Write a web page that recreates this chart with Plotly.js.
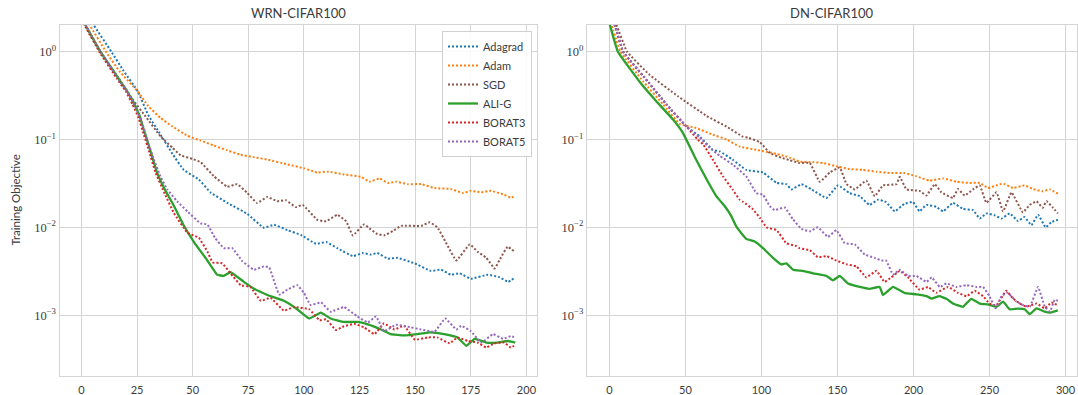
<!DOCTYPE html>
<html>
<head>
<meta charset="utf-8">
<script src="https://cdn.plot.ly/plotly-3.0.1.min.js"></script>
<style>html,body{margin:0;padding:0;background:#fff;}#chart{width:1078px;height:395px;}</style>
</head>
<body>
<div id="chart"></div>
<script>
// ---------- WRN-CIFAR100 (left) ----------
const wrnAdagradX = [0, 5.5, 13.4, 19, 25.4, 30, 35.6, 41, 46, 52.8, 58, 65.6, 74.6, 82, 86.6, 92.6, 98.6, 105.4, 110, 115, 122, 126.4, 130, 133, 137.7, 142, 149.7, 157, 161.7, 166, 170, 175, 182.7, 188, 191.8, 195];
const wrnAdagradY = [3.3, 2.0, 1.0, 0.6, 0.35, 0.19, 0.113, 0.068, 0.045, 0.035, 0.025, 0.019, 0.0142, 0.0099, 0.0107, 0.0093, 0.0082, 0.0065, 0.0068, 0.0058, 0.0047, 0.0051, 0.0049, 0.0051, 0.0044, 0.0045, 0.0039, 0.0032, 0.0033, 0.0029, 0.0030, 0.0026, 0.0029, 0.0027, 0.0024, 0.0027];

const wrnAdamX = [0, 3.7, 11, 17, 25.4, 30, 35.6, 41, 47.6, 53.6, 59.6, 65.6, 71.6, 77, 83.6, 92.6, 100, 106, 110.7, 118, 125.7, 129.4, 134, 137.7, 141.4, 146.7, 152.7, 158.7, 166, 171.5, 175, 179.7, 184, 190, 193, 195];
const wrnAdamY = [3.0, 2.0, 1.0, 0.6, 0.35, 0.24, 0.175, 0.14, 0.11, 0.097, 0.085, 0.075, 0.067, 0.063, 0.059, 0.052, 0.047, 0.042, 0.043, 0.040, 0.0375, 0.033, 0.036, 0.032, 0.033, 0.031, 0.031, 0.028, 0.0273, 0.0246, 0.026, 0.025, 0.026, 0.0235, 0.0217, 0.023];

const wrnSgdX = [0, 1.8, 8.5, 16, 22.8, 28.8, 35.6, 41, 44.6, 50, 53.6, 59.6, 65.6, 70, 74.6, 79, 83.6, 88, 91.9, 96.4, 99.4, 106, 110, 115, 119, 122, 127, 130, 133, 136, 140, 143.7, 152.7, 156.5, 160, 164.7, 168.5, 174.5, 178, 182, 185.7, 188, 191.5, 195];
const wrnSgdY = [2.4, 2.0, 1.0, 0.53, 0.29, 0.183, 0.108, 0.08, 0.066, 0.06, 0.055, 0.038, 0.029, 0.031, 0.0245, 0.0189, 0.0222, 0.0198, 0.0203, 0.017, 0.018, 0.0122, 0.0117, 0.0139, 0.0117, 0.0081, 0.0108, 0.0095, 0.0084, 0.0081, 0.0091, 0.0104, 0.0104, 0.0114, 0.0100, 0.0061, 0.0042, 0.0064, 0.0053, 0.0045, 0.0034, 0.0043, 0.0060, 0.0052];

const wrnAligX = [0, 1.8, 8.5, 16, 20, 23.6, 26, 28, 30.3, 34, 37.5, 41.6, 46, 50.6, 56.6, 61, 64, 67, 73, 77.6, 83.6, 91, 97, 102.4, 107.6, 112, 118, 124, 128.7, 134.7, 139, 145, 151, 157, 163, 169, 173, 176.7, 182, 187, 191.7, 195];
const wrnAligY = [2.4, 2.0, 1.0, 0.52, 0.37, 0.26, 0.19, 0.13, 0.085, 0.042, 0.027, 0.0175, 0.0105, 0.0068, 0.0042, 0.0029, 0.0028, 0.0031, 0.0024, 0.0020, 0.0017, 0.00146, 0.00117, 0.00092, 0.00107, 0.00092, 0.00084, 0.00084, 0.00079, 0.00069, 0.00061, 0.00059, 0.00061, 0.00064, 0.00061, 0.00056, 0.00045, 0.00054, 0.00049, 0.00049, 0.00051, 0.00049];

const wrnBorat3X = [0, 1.8, 8.5, 16, 20, 23, 25.5, 28, 30.5, 33.3, 37.5, 41.6, 47.6, 52.8, 56.6, 59, 63.3, 67, 71.6, 76, 80.6, 85, 91, 95.6, 102.4, 107, 110, 114.4, 118, 122.6, 127, 131.7, 136, 140.7, 145, 149.8, 155.7, 160, 165.5, 169, 173.7, 178, 182, 185.7, 190, 193, 195];
const wrnBorat3Y = [2.3, 1.9, 0.95, 0.49, 0.35, 0.25, 0.18, 0.115, 0.072, 0.042, 0.024, 0.0145, 0.0087, 0.0076, 0.0053, 0.0040, 0.0039, 0.0030, 0.0022, 0.0021, 0.00146, 0.00158, 0.00113, 0.00124, 0.00117, 0.00088, 0.00090, 0.00068, 0.00075, 0.00080, 0.00073, 0.00061, 0.00081, 0.00069, 0.00076, 0.00053, 0.00056, 0.00056, 0.00048, 0.00056, 0.00051, 0.00049, 0.00043, 0.00048, 0.00049, 0.00043, 0.00046];

const wrnBorat5X = [0, 1.8, 8.5, 16, 22, 26.6, 29.5, 32.6, 35.5, 38.6, 43, 47.6, 53.6, 56.6, 60, 64, 67.8, 72.4, 77.6, 82, 84.4, 88.9, 92.6, 97, 100, 103, 107.7, 112, 118, 124, 128.7, 132.4, 136, 141.4, 148, 152.7, 158.7, 163.5, 168.5, 170.7, 175, 179.7, 185, 189.5, 193, 195];
const wrnBorat5Y = [2.4, 2.0, 1.0, 0.52, 0.3, 0.175, 0.1, 0.059, 0.038, 0.027, 0.0198, 0.0152, 0.0111, 0.0108, 0.0076, 0.0058, 0.0058, 0.0041, 0.0033, 0.0036, 0.0035, 0.00172, 0.00196, 0.0022, 0.0018, 0.00131, 0.0014, 0.0011, 0.00124, 0.00097, 0.00083, 0.00097, 0.00066, 0.00078, 0.00073, 0.00069, 0.00065, 0.00092, 0.00069, 0.00076, 0.00066, 0.00049, 0.00061, 0.00054, 0.00058, 0.00056];

// ---------- DN-CIFAR100 (right) ----------
const dnAdagradX = [0, 3.5, 9, 26.5, 37.5, 50.7, 59.4, 68, 72.6, 81, 90, 101, 110, 116.4, 119.7, 126.3, 133, 142.8, 150.4, 158, 164.7, 171, 176.7, 182, 187.7, 194, 199.7, 204, 208.5, 215, 219.5, 226, 232.6, 239.2, 243.6, 248, 253.5, 258, 263.3, 268.8, 273, 277.6, 282, 287, 290.8, 295];
const dnAdagradY = [3.0, 2.0, 1.0, 0.43, 0.25, 0.14, 0.108, 0.076, 0.073, 0.059, 0.045, 0.042, 0.032, 0.031, 0.027, 0.031, 0.027, 0.0216, 0.030, 0.0245, 0.0226, 0.018, 0.0206, 0.0194, 0.0152, 0.0185, 0.0194, 0.0152, 0.018, 0.0171, 0.0152, 0.019, 0.0162, 0.0157, 0.0126, 0.0144, 0.0137, 0.0126, 0.0144, 0.0118, 0.0131, 0.0106, 0.0139, 0.0100, 0.0115, 0.0122];

const dnAdamX = [0, 7.2, 22, 35.3, 46.3, 57, 68, 77, 85.7, 96.7, 107.6, 116.4, 118.6, 125, 134, 140.5, 150.4, 158, 166.8, 175.7, 184.4, 194, 202, 210.7, 219.5, 228.3, 237, 243.6, 249, 256.8, 260, 265.5, 273, 278.7, 285, 289.7, 295];
const dnAdamY = [2.4, 1.0, 0.46, 0.25, 0.15, 0.135, 0.113, 0.10, 0.083, 0.076, 0.070, 0.064, 0.062, 0.056, 0.055, 0.054, 0.049, 0.046, 0.045, 0.043, 0.0415, 0.0415, 0.038, 0.034, 0.036, 0.033, 0.032, 0.032, 0.028, 0.031, 0.031, 0.028, 0.030, 0.0273, 0.0257, 0.027, 0.0242];

const dnSgdX = [0, 4.6, 11.5, 26, 45, 64, 77, 88, 91, 99, 105.5, 113, 118.6, 125, 131.8, 138.4, 145, 151.5, 156, 161.4, 169, 174.5, 180, 188.8, 191, 195.4, 204, 208.5, 214, 218.4, 226, 229.3, 233.7, 239.2, 243.6, 248, 254.6, 259, 264.5, 272, 276.5, 281, 285, 287.5, 291.8, 295];
const dnSgdY = [2.6, 2.0, 1.0, 0.55, 0.31, 0.185, 0.14, 0.107, 0.105, 0.093, 0.070, 0.062, 0.058, 0.054, 0.054, 0.033, 0.042, 0.048, 0.031, 0.027, 0.034, 0.0226, 0.030, 0.031, 0.0375, 0.027, 0.026, 0.023, 0.031, 0.025, 0.0216, 0.0273, 0.023, 0.027, 0.030, 0.019, 0.025, 0.0152, 0.025, 0.0148, 0.018, 0.0198, 0.0167, 0.0198, 0.0167, 0.0144];

const dnAligX = [0, 5.5, 20, 31, 42, 48.4, 57, 64, 70.4, 75.9, 80, 83.5, 90, 95.6, 102, 107.6, 113, 116.4, 120.8, 127.4, 134, 142.8, 147, 151.5, 157, 164.7, 171, 177.8, 180, 186.6, 194, 202, 208.6, 212, 217, 221.7, 226, 232.6, 238, 243.6, 249, 254.6, 259, 263.3, 268.8, 273.2, 276.5, 281, 286.4, 289.7, 295];
const dnAligY = [2.1, 1.0, 0.45, 0.27, 0.167, 0.118, 0.059, 0.035, 0.0225, 0.0174, 0.0136, 0.0102, 0.0074, 0.0069, 0.0056, 0.0045, 0.0038, 0.0039, 0.0033, 0.0032, 0.0030, 0.0028, 0.0025, 0.0028, 0.0023, 0.0021, 0.0020, 0.0021, 0.0017, 0.0021, 0.0018, 0.00173, 0.00165, 0.00155, 0.00165, 0.00154, 0.00136, 0.00125, 0.00154, 0.00136, 0.00133, 0.00125, 0.00143, 0.00117, 0.00119, 0.00117, 0.00103, 0.00120, 0.00110, 0.00107, 0.00114];

const dnBorat3X = [0, 3.5, 9, 26.5, 37.5, 50.7, 58, 61.6, 68, 74.7, 81, 85.7, 88, 94.5, 99, 103.3, 110, 116.4, 123, 125, 131.8, 137, 142.8, 149.3, 156, 162.5, 169, 175.7, 181, 185.5, 191, 196.4, 204, 209.6, 215, 222.8, 229.3, 235, 240.3, 245.8, 250, 254.6, 261, 265.5, 270, 274.3, 281, 286.4, 290.8, 295];
const dnBorat3Y = [3.0, 2.0, 1.0, 0.43, 0.25, 0.14, 0.10, 0.088, 0.059, 0.038, 0.027, 0.0206, 0.0195, 0.016, 0.0128, 0.010, 0.0093, 0.0066, 0.0061, 0.0058, 0.0055, 0.0046, 0.0047, 0.0042, 0.0038, 0.0036, 0.0027, 0.0032, 0.0024, 0.0027, 0.0032, 0.0027, 0.00196, 0.0021, 0.0018, 0.0021, 0.0018, 0.00165, 0.0019, 0.00165, 0.00136, 0.0013, 0.0019, 0.00155, 0.00136, 0.00125, 0.00136, 0.0012, 0.0014, 0.0013];

const dnBorat5X = [0, 3.5, 9, 26.5, 37.5, 50.7, 59.4, 66, 72.6, 81, 90, 96.7, 101, 105.5, 108.7, 115.3, 120.8, 126.3, 131.8, 137, 143.8, 149.3, 154.8, 161.4, 168, 174.5, 179, 182, 186.6, 191, 196.4, 202, 208.6, 212, 217.3, 221.7, 228.3, 235, 241.4, 245.8, 250, 254, 258, 262, 267.8, 272, 276.5, 282, 286.4, 289.7, 293, 295];
const dnBorat5Y = [3.0, 2.0, 1.0, 0.43, 0.25, 0.14, 0.105, 0.080, 0.065, 0.052, 0.038, 0.0245, 0.0235, 0.0174, 0.0157, 0.0168, 0.0123, 0.0096, 0.0090, 0.010, 0.0078, 0.0093, 0.0066, 0.0064, 0.0049, 0.0045, 0.0042, 0.0042, 0.0029, 0.0033, 0.0028, 0.0028, 0.0024, 0.0027, 0.0021, 0.0023, 0.0021, 0.0022, 0.0021, 0.0021, 0.00165, 0.0012, 0.00165, 0.0018, 0.00143, 0.00131, 0.00125, 0.0021, 0.00125, 0.0011, 0.0015, 0.00146];

// ---------- labels ----------
const seriesNames = ['Adagrad', 'Adam', 'SGD', 'ALI-G', 'BORAT3', 'BORAT5'];
const panelTitles = ['WRN-CIFAR100', 'DN-CIFAR100'];
const yAxisLabel = 'Training Objective';
const xTicksLeft = [0, 25, 50, 75, 100, 125, 150, 175, 200];
const xTicksRight = [0, 50, 100, 150, 200, 250, 300];
const yTickVals = [1e-3, 1e-2, 1e-1, 1];
const yTickText = ['10<sup>−3</sup>', '10<sup>−2</sup>', '10<sup>−1</sup>', '10<sup>0</sup>'];

// ---------- styles ----------
const colors = ['#1f77b4', '#ff7f0e', '#8c564b', '#2ca02c', '#d62728', '#9467bd'];
const dashes = ['2px,2px', '2px,2px', '2px,2px', 'solid', '2px,2px', '2px,2px'];
const widths = [2, 2, 2, 2.3, 2, 2];

const leftData = [[wrnAdagradX, wrnAdagradY], [wrnAdamX, wrnAdamY], [wrnSgdX, wrnSgdY], [wrnAligX, wrnAligY], [wrnBorat3X, wrnBorat3Y], [wrnBorat5X, wrnBorat5Y]];
const rightData = [[dnAdagradX, dnAdagradY], [dnAdamX, dnAdamY], [dnSgdX, dnSgdY], [dnAligX, dnAligY], [dnBorat3X, dnBorat3Y], [dnBorat5X, dnBorat5Y]];

const traces = [];
leftData.forEach((d, i) => {
  traces.push({x: d[0], y: d[1], xaxis: 'x', yaxis: 'y', mode: 'lines', name: seriesNames[i],
    line: {color: colors[i], width: widths[i], dash: dashes[i], shape: 'spline', smoothing: 0.3}, showlegend: true});
});
rightData.forEach((d, i) => {
  traces.push({x: d[0], y: d[1], xaxis: 'x2', yaxis: 'y2', mode: 'lines', name: seriesNames[i],
    line: {color: colors[i], width: widths[i], dash: dashes[i], shape: 'spline', smoothing: 0.3}, showlegend: false});
});

const W = 1078, H = 395;
const yDom = [1 - 376 / H, 1 - 25 / H];
const gridC = '#d4d4d4';
const tickFont = {family: 'Lato, "Open Sans", sans-serif', size: 11, color: '#3b3b3b'};
const yTickFont = {family: '"Liberation Serif", "DejaVu Serif", serif', size: 12.5, color: '#3b3b3b'};

const xCommon = {showgrid: true, gridcolor: gridC, gridwidth: 1, zeroline: false, showline: true, linecolor: gridC, linewidth: 1.2, mirror: true, ticks: '', tickfont: tickFont, tickmode: 'array', ticklabelstandoff: 4, fixedrange: true};
const yCommon = {type: 'log', range: [Math.log10(2.04e-4), Math.log10(2.0)], showgrid: true, gridcolor: gridC, gridwidth: 1, zeroline: false, showline: true, linecolor: gridC, linewidth: 1.2, mirror: true, ticks: '', tickmode: 'array', tickvals: yTickVals, ticktext: yTickText, tickfont: yTickFont, fixedrange: true};

const layout = {
  width: W, height: H,
  margin: {l: 0, r: 0, t: 0, b: 0},
  paper_bgcolor: '#ffffff', plot_bgcolor: '#ffffff',
  showlegend: true,
  xaxis: Object.assign({}, xCommon, {domain: [59.7 / W, 537 / W], range: [-9.75, 204.75], tickvals: xTicksLeft, anchor: 'y'}),
  yaxis: Object.assign({}, yCommon, {domain: yDom, anchor: 'x'}),
  xaxis2: Object.assign({}, xCommon, {domain: [587 / W, 1077 / W], range: [-14.75, 307.6], tickvals: xTicksRight, anchor: 'y2'}),
  yaxis2: Object.assign({}, yCommon, {domain: yDom, anchor: 'x2'}),
  legend: {x: 532 / W, xanchor: 'right', y: 1 - 31 / H, yanchor: 'top', bgcolor: 'rgba(255,255,255,0.85)', bordercolor: '#d0d0d0', borderwidth: 1,
    font: {family: 'Lato, "Open Sans", sans-serif', size: 11, color: '#3b3b3b'}, itemwidth: 30, tracegroupgap: 0},
  annotations: [
    {text: panelTitles[0], xref: 'paper', yref: 'paper', x: (59.7 + 537) / 2 / W, y: 1 - 13 / H, xanchor: 'center', yanchor: 'middle', showarrow: false,
      font: {family: 'Lato, "Open Sans", sans-serif', size: 13, color: '#3b3b3b'}},
    {text: panelTitles[1], xref: 'paper', yref: 'paper', x: (587 + 1077) / 2 / W, y: 1 - 13 / H, xanchor: 'center', yanchor: 'middle', showarrow: false,
      font: {family: 'Lato, "Open Sans", sans-serif', size: 13, color: '#3b3b3b'}},
    {text: yAxisLabel, xref: 'paper', yref: 'paper', x: 15 / W, y: 1 - 200.5 / H, xanchor: 'center', yanchor: 'middle', textangle: -90, showarrow: false,
      font: {family: 'Lato, "Open Sans", sans-serif', size: 11.5, color: '#3b3b3b'}}
  ]
};

Plotly.newPlot('chart', traces, layout, {staticPlot: true, displayModeBar: false});
</script>
</body>
</html>
